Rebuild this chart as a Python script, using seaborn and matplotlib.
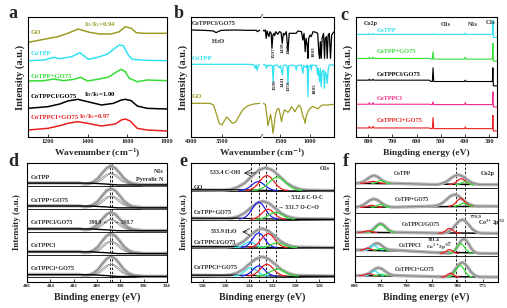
import matplotlib
matplotlib.use("Agg")
import matplotlib.pyplot as plt
import seaborn as sns

sns.set_theme(style="ticks")
plt.rcParams["font.family"] = ["Liberation Serif", "DejaVu Serif"]
plt.rcParams["font.weight"] = "bold"
plt.rcParams["mathtext.fontset"] = "stix"
plt.rcParams["axes.linewidth"] = 0.8
plt.rcParams["axes.edgecolor"] = "black"

OLIVE = "#9c9c24"
CYAN = "#30e2f2"
GREEN = "#35dc35"
PINK = "#f22a8c"
RED = "#ea2020"
BLUE = "#2020f0"
LGRAY = "#b4b4b4"
DGRAY = "#808080"

# ---------------- a: Raman (intensity in picture units, axis flipped)
raman_names = ["GO", "CoTPP", "CoTPP+GO75", "CoTPPCl/GO75", "CoTPPCl+GO75"]
raman_colors = [OLIVE, CYAN, GREEN, "black", RED]
raman_go_x = [1100, 1180, 1250, 1300, 1353, 1410, 1460, 1520, 1560, 1590, 1620, 1645, 1680, 1800]
raman_go_y = [127, 118, 110, 100, 87, 97, 102, 102, 95, 80, 85, 98, 100, 100]
raman_cotpp_x = [1100, 1180, 1230, 1260, 1320, 1362, 1404, 1450, 1500, 1530, 1560, 1580, 1605, 1625, 1700, 1800]
raman_cotpp_y = [182, 180, 172, 176, 170, 158, 178, 172, 162, 148, 135, 137, 165, 178, 181, 182]
raman_mix_x = [1100, 1180, 1230, 1280, 1330, 1365, 1400, 1450, 1500, 1515, 1540, 1570, 1590, 1610, 1650, 1700, 1800]
raman_mix_y = [243, 242, 237, 242, 238, 232, 243, 238, 232, 228, 218, 208, 215, 235, 245, 240, 242]
raman_cl_go_x = [1100, 1200, 1260, 1300, 1350, 1400, 1470, 1530, 1570, 1590, 1620, 1650, 1700, 1800]
raman_cl_go_y = [325, 320, 312, 303, 298, 305, 315, 310, 300, 298, 302, 318, 325, 327]
raman_cl_mix_x = [1100, 1200, 1260, 1300, 1350, 1400, 1470, 1540, 1570, 1590, 1615, 1650, 1700, 1800]
raman_cl_mix_y = [390, 385, 377, 370, 365, 370, 378, 372, 360, 357, 363, 385, 390, 393]
raman_ratio = ["0.94", "1.00", "0.97"]

# ---------------- b: FTIR (transmittance in picture units, axis flipped)
ftir_black_left = [(4000, 45), (3800, 46), (3700, 47), (3640, 48), (3600, 53), (3570, 50), (3520, 46),
                   (3300, 45), (3100, 46), (2960, 46), (2940, 50), (2900, 45)]
ftir_black_right = [(1800, 45), (1780, 48), (1760, 45), (1745, 70), (1730, 48), (1700, 65), (1680, 50),
                    (1660, 55), (1646, 100), (1630, 60), (1610, 55), (1600, 62), (1580, 50), (1545, 58),
                    (1520, 50), (1490, 52), (1469, 85), (1450, 55), (1430, 60), (1400, 50), (1371, 110),
                    (1350, 55), (1320, 55), (1230, 55), (1200, 48), (1140, 50), (1114, 75), (1095, 55),
                    (1075, 110), (1060, 70), (1040, 90), (1029, 130), (1015, 70), (990, 60), (972, 65),
                    (940, 50), (890, 52), (860, 55), (840, 115), (828, 130), (815, 80), (800, 130),
                    (785, 70), (760, 55), (743, 130), (730, 70), (710, 65), (697, 130), (680, 60),
                    (660, 55), (640, 130), (620, 60), (600, 55), (580, 50)]
ftir_cyan_left = [(4000, 148), (3100, 148), (3000, 149), (2975, 160), (2962, 150), (2945, 166),
                  (2928, 151), (2900, 149)]
ftir_cyan_right = [(1800, 148), (1760, 150), (1743, 160), (1730, 150), (1700, 154), (1680, 150),
                   (1640, 152), (1625, 200), (1612, 152), (1560, 150), (1520, 158), (1500, 152),
                   (1465, 180), (1452, 152), (1420, 150), (1385, 152), (1371, 205), (1358, 152),
                   (1300, 150), (1240, 154), (1229, 165), (1215, 152), (1140, 150), (1114, 175),
                   (1100, 152), (1060, 158), (1040, 150), (1029, 245), (1015, 155), (985, 150),
                   (972, 165), (960, 150), (880, 152), (860, 180), (850, 160), (828, 200), (815, 160),
                   (800, 215), (785, 170), (760, 165), (743, 220), (730, 170), (710, 180), (697, 205),
                   (680, 165), (660, 150), (600, 150), (580, 150)]
ftir_go_left = [(4000, 265), (3700, 265), (3640, 270), (3590, 300), (3550, 325), (3510, 330), (3470, 318),
                (3430, 306), (3390, 314), (3340, 325), (3290, 322), (3230, 302), (3170, 283), (3090, 272),
                (3000, 267), (2900, 265)]
ftir_go_right = [(1800, 265), (1760, 268), (1735, 300), (1715, 332), (1695, 318), (1670, 298), (1648, 322),
                 (1628, 355), (1608, 330), (1588, 300), (1560, 284), (1530, 280), (1505, 298), (1482, 320),
                 (1460, 300), (1430, 285), (1400, 288), (1370, 292), (1340, 285), (1310, 275), (1280, 282),
                 (1250, 290), (1220, 280), (1180, 270), (1150, 278), (1120, 300), (1090, 315), (1075, 325),
                 (1060, 305), (1030, 290), (990, 280), (950, 274), (900, 278), (860, 282), (820, 275),
                 (780, 270), (700, 270), (580, 268)]
ftir_black_marks = ["1597", "1439", "1348", "1003"]
ftir_cyan_marks = ["1599", "1441", "1350", "1005"]

# ---------------- c: XPS survey (picture units, axis flipped)
survey_names = ["CoTPP", "CoTPP+GO75", "CoTPPCl/GO75", "CoTPPCl", "CoTPPCl+GO75"]
survey_colors = [CYAN, GREEN, "black", PINK, RED]
survey_hi = [103, 175, 240, 312, 383]
survey_mid = [103, 177, 244, 313, 385]
survey_lo = [112, 183, 257, 320, 392]
survey_co2p = [3, 4, 3, 5, 5]
survey_o1s = [2, 22, 41, 8, 33]
survey_n1s = [4, 6, 4, 6, 5]
survey_c1s = [43, 47, 41, 38, 40]

# ---------------- shared peak shape
peak_u = [-3, -2.5, -2, -1.5, -1, -0.5, 0, 0.5, 1, 1.5, 2, 2.5, 3]
peak_v = [0.01, 0.04, 0.14, 0.32, 0.61, 0.88, 1.0, 0.88, 0.61, 0.32, 0.14, 0.04, 0.01]

# ---------------- d: N1s (rows from bottom)
n1s_names = ["CoTPPCl+GO75", "CoTPPCl", "CoTPPCl/GO75", "CoTPP+GO75", "CoTPP"]
n1s_height = [0.85, 0.85, 0.78, 0.82, 0.8]
n1s_center = 398.8
n1s_sigma = 0.75
n1s_lines = [398.9, 398.7]

# ---------------- e: O1s (rows from bottom)
o1s_names = ["CoTPPCl+GO75", "CoTPPCl/GO75", "CoTPP+GO75", "GO"]
o1s_env_c = [532.9, 532.9, 532.85, 532.6]
o1s_env_s = [1.1, 1.05, 1.05, 1.2]
o1s_env_h = [0.67, 0.66, 0.62, 0.8]
o1s_comp_row = [0, 0, 0, 0, 1, 1, 1, 1, 2, 2, 2, 3, 3, 3]
o1s_comp_col = [CYAN, BLUE, RED, GREEN, CYAN, BLUE, RED, GREEN, BLUE, RED, GREEN, BLUE, RED, GREEN]
o1s_comp_c = [533.85, 533.2, 532.5, 531.6, 533.95, 533.2, 532.4, 531.6, 533.2, 532.4, 531.75, 533.25, 532.5, 531.6]
o1s_comp_s = [0.5, 0.5, 0.55, 0.6, 0.45, 0.5, 0.55, 0.55, 0.55, 0.5, 0.55, 0.55, 0.6, 0.7]
o1s_comp_h = [0.3, 0.36, 0.42, 0.25, 0.2, 0.52, 0.5, 0.16, 0.6, 0.35, 0.24, 0.32, 0.54, 0.48]
o1s_lines = [533.9, 533.2, 532.6, 531.7]

# ---------------- f: Co2p (rows from bottom, picture units)
co_names = ["CoTPPCl+GO75", "CoTPPCl", "CoTPPCl/GO75", "CoTPP+GO75", "CoTPP"]
co_row_bottom = [0, 26, 46, 70, 96]
co_base_l = [6.5, 32.5, 50.5, 76, 100.3]
co_base_r = [5, 29, 49.5, 77, 99]
co_bump_c = [795.4, 795.7, 795.0, 796.3, 796.3]
co_bump_s = [1.2, 1.0, 1.0, 1.3, 1.2]
co_bump_h = [8, 7, 9, 8.5, 8]
co_main_c = [779.0, 778.7, 779.0, 780.5, 779.8]
co_main_s = [1.2, 1.0, 1.3, 1.5, 1.5]
co_main_h = [15, 15, 14, 12, 10]
co_comp_row = [0, 0, 0, 0, 0, 1, 1, 1, 1, 1, 2, 2, 2, 3, 3, 3, 3, 4, 4, 4, 4]
co_comp_col = [CYAN, RED, GREEN, RED, GREEN, CYAN, RED, GREEN, RED, GREEN, GREEN, RED, RED,
               RED, GREEN, RED, GREEN, RED, GREEN, RED, GREEN]
co_comp_c = [796.2, 797.3, 779.4, 781.3, 794.9, 796.3, 797.5, 779.3, 781.5, 794.9, 795.0, 797.5, 781.5,
             796.8, 795.0, 779.3, 778.8, 796.5, 794.9, 779.2, 778.5]
co_comp_s = [0.6, 0.6, 0.8, 0.6, 0.5, 0.6, 0.5, 0.8, 0.6, 0.5, 0.9, 0.6, 0.7,
             0.7, 0.6, 0.8, 0.6, 0.8, 0.6, 0.8, 0.6]
co_comp_h = [5, 2, 12, 4, 1.5, 5, 2, 10, 4, 1.5, 8, 1.5, 5,
             2, 3, 8, 3, 2, 3, 6, 3]
co_lines = [780.3, 778.4]

W, H = 507, 308
fig = plt.figure(figsize=(W / 100, H / 100), dpi=100)


def box(l, r, t, b):
    return fig.add_axes([l / W, 1 - b / H, (r - l) / W, (b - t) / H])


def style(ax, fs):
    ax.set_yticks([])
    ax.tick_params(axis="x", direction="in", length=2, width=0.6, labelsize=fs, pad=1.5)
    for s in ax.spines.values():
        s.set_linewidth(0.8)
        s.set_color("black")


def line(ax, x, y, color, lw=1.0):
    sns.lineplot(x=list(x), y=list(y), ax=ax, color=color, lw=lw, sort=False, estimator=None)


def peak(c, s, h, base):
    return [c - s * u for u in peak_u], [base + h * v for v in peak_v]


def dashed(ax, xs):
    for x in xs:
        ax.axvline(x, color="black", lw=0.6, ls=(0, (3, 2)))


# ---------------- panel a
ax = box(28, 167, 17, 137)
ax.set_xlim(1100, 1800)
ax.set_ylim(411, 51)
raman_x = [raman_go_x, raman_cotpp_x, raman_mix_x, raman_cl_go_x, raman_cl_mix_x]
raman_y = [raman_go_y, raman_cotpp_y, raman_mix_y, raman_cl_go_y, raman_cl_mix_y]
for xs, ys, col in zip(raman_x, raman_y, raman_colors):
    line(ax, xs, ys, col, 1.1)
for name, col, yy in zip(raman_names, raman_colors, [97, 160, 228, 290, 353]):
    ax.text(1112, yy, name, color=col, fontsize=4.8, va="center")
for r, col, (xx, yy) in zip(raman_ratio, [OLIVE, "black", RED], [(1463, 75), (1463, 283), (1437, 350)]):
    ax.text(xx, yy, "I$_\\mathrm{D}$/I$_\\mathrm{G}$=" + r, color=col, fontsize=4.8, ha="center", va="center")
ax.set_xticks([1200, 1400, 1600, 1800])
style(ax, 4.5)
ax.set_ylabel("Intensity (a.u.)", fontsize=7.5, fontweight="bold", labelpad=2)

# ---------------- panel b (broken axis)
b1 = box(191, 260, 17, 137)
b2 = box(263, 334, 17, 137)
for bx, lim in [(b1, (4000, 2900)), (b2, (1800, 580))]:
    bx.set_xlim(*lim)
    bx.set_ylim(366, 6)
traces = [(ftir_black_left, ftir_black_right, "black"),
          (ftir_cyan_left, ftir_cyan_right, CYAN),
          (ftir_go_left, ftir_go_right, OLIVE)]
for left, right, col in traces:
    line(b1, [p[0] for p in left], [p[1] for p in left], col, 0.9)
    line(b2, [p[0] for p in right], [p[1] for p in right], col, 0.9)
b1.text(3990, 25, "CoTPPCl/GO75", fontsize=4.6, va="center")
b1.text(3560, 80, "H$_2$O", fontsize=4.8, ha="center", va="center")
b1.text(3990, 130, "CoTPP", color=CYAN, fontsize=4.8, va="center")
b1.text(3990, 245, "GO", color=OLIVE, fontsize=4.8, va="center")
for m, (xx, yy) in zip(ftir_black_marks, [(1611, 112), (1456, 98), (1359, 100), (924, 110)]):
    b2.text(xx, yy, m, fontsize=3.8, rotation=90, ha="center", va="center")
for m, (xx, yy) in zip(ftir_cyan_marks, [(1599, 210), (1456, 200), (1359, 212), (912, 222)]):
    b2.text(xx, yy, m, fontsize=3.8, rotation=90, ha="center", va="center")
b1.set_xticks([4000, 3500])
b2.set_xticks([1500, 1000])
style(b1, 4.5)
style(b2, 4.5)
b1.spines["right"].set_visible(False)
b2.spines["left"].set_visible(False)
b1.set_ylabel("Intensity (a.u.)", fontsize=7.5, fontweight="bold", labelpad=2)
for yy in [17, 137]:
    fig.text(261.5 / W, 1 - yy / H, "//", fontsize=5, fontstyle="italic", ha="center", va="center")

# ---------------- panel c
ax = box(356, 497, 17, 137)
ax.set_xlim(850, 268)
ax.set_ylim(410, 51)
survey_x = [850, 800, 797, 795, 792, 783, 780, 777, 700, 600, 548, 540, 535, 532, 529, 520, 420,
            402, 399, 396, 320, 296, 287, 285, 283, 280, 268]
for i, col in enumerate(survey_colors):
    hi, mid, lo = survey_hi[i], survey_mid[i], survey_lo[i]
    co, o, n, c = survey_co2p[i], survey_o1s[i], survey_n1s[i], survey_c1s[i]
    ys = [hi, hi, hi, hi - co, hi, hi, hi - co, hi, hi, hi, hi, mid, mid, mid - o, mid, mid, mid,
          mid, mid - n, mid, mid, mid, mid, mid - c, lo, lo, lo]
    line(ax, survey_x, ys, col, 0.8)
    ax.text(764, [90, 155, 222, 295, 362][i], survey_names[i], color=col, fontsize=4.6, va="center")
for lab, xx, yy in [("Co2p", 789, 70), ("O1s", 481, 74), ("N1s", 368, 74), ("C1s", 296, 68)]:
    ax.text(xx, yy, lab, fontsize=4.4, ha="center", va="center")
ax.set_xticks([800, 700, 600, 500, 400, 300])
style(ax, 4.5)
ax.set_ylabel("Intensity (a.u.)", fontsize=7.5, fontweight="bold", labelpad=2)

# ---------------- panel d
ax = box(27, 167, 163, 282)
ax.set_xlim(406, 394)
ax.set_ylim(0, 5.2)
dashed(ax, n1s_lines)
for i, name in enumerate(n1s_names):
    y0 = 0.2 + i
    ax.axhline(y0, color="black", lw=0.6)
    h = n1s_height[i]
    px, py = peak(n1s_center, n1s_sigma, h, y0 + 0.07)
    ex = [406, 401.5] + px + [396, 394]
    ey = [y0 + 0.13, y0 + 0.13] + py + [y0 + 0.05, y0 + 0.05]
    line(ax, ex, ey, LGRAY, 2.4)
    line(ax, ex, ey, DGRAY, 0.6)
    for c in n1s_lines:
        cx, cy = peak(c, 0.65, 0.6 * h, y0 + 0.07)
        line(ax, cx, cy, DGRAY, 0.5)
    line(ax, [406, 400.6, 399.2, 398.2, 394],
         [y0 + 0.12, y0 + 0.12, y0 + 0.08, y0 + 0.04, y0 + 0.04], "black", 1.0)
    ax.text(405.7, y0 + 0.38, name, fontsize=4.4, va="center")
ax.text(394.3, 4.85, "N1s", fontsize=4.4, ha="right", va="center")
ax.text(394.3, 4.5, "Pyrrolic N", fontsize=4.4, ha="right", va="center")
ax.text(399.05, 2.6, "398.9 \u2190", fontsize=4, ha="right", va="center")
ax.text(398.55, 2.6, "\u2192 398.7", fontsize=4, ha="left", va="center", fontstyle="italic")
ax.set_xticks([406, 404, 402, 400, 398, 396, 394])
style(ax, 3.7)
ax.set_ylabel("Intensity (a.u.)", fontsize=6.5, fontweight="bold", labelpad=4)

# ---------------- panel e
ax = box(191, 334, 163, 282)
ax.set_xlim(539, 526.75)
ax.set_ylim(0, 4.18)
dashed(ax, o1s_lines)
for i, name in enumerate(o1s_names):
    y0 = 0.18 + i
    ax.axhline(y0, color="black", lw=0.6)
    px, py = peak(o1s_env_c[i], o1s_env_s[i], o1s_env_h[i], y0 + 0.04)
    ex = [539] + px + [526.75]
    ey = [y0 + 0.06] + py + [y0 + 0.03]
    line(ax, ex, ey, LGRAY, 2.4)
    line(ax, ex, ey, DGRAY, 0.6)
    line(ax, [539, 535, 530.5, 526.75], [y0 + 0.06, y0 + 0.06, y0 + 0.02, y0 + 0.02], "black", 0.9)
for r, col, c, s, h in zip(o1s_comp_row, o1s_comp_col, o1s_comp_c, o1s_comp_s, o1s_comp_h):
    cx, cy = peak(c, s, h, 0.18 + r + 0.03)
    line(ax, cx, cy, col, 0.9)
for name, yy in zip(o1s_names, [0.51, 1.38, 2.45, 3.33]):
    ax.text(538.8, yy, name, fontsize=4.4, va="center")
ax.text(527.1, 3.97, "O1s", fontsize=4.4, ha="right", va="center")
ax.text(534.75, 3.83, "533.4 C-OH", fontsize=4.2, ha="right", va="center")
ax.annotate("", xy=(534.7, 3.83), xytext=(533.25, 3.83),
            arrowprops=dict(arrowstyle="->", lw=0.5, color="black"))
ax.text(530.65, 2.97, "\u00b7 532.6 C-O-C", fontsize=4.2, ha="left", va="center")
ax.text(531.55, 2.62, "\u2192 531.7 O-C=O", fontsize=4.2, ha="left", va="center")
ax.text(534.95, 1.76, "533.9 H$_2$O", fontsize=4.2, ha="right", va="center")
ax.annotate("", xy=(534.85, 1.76), xytext=(533.95, 1.76),
            arrowprops=dict(arrowstyle="->", lw=0.5, color="black"))
ax.set_xticks([538, 536, 534, 532, 530, 528])
style(ax, 3.7)
ax.set_ylabel("Intensity (a.u.)", fontsize=6.5, fontweight="bold", labelpad=2)

# ---------------- panel f
ax = box(355, 498, 163, 282)
ax.set_xlim(800, 772)
ax.set_ylim(0, 121)
dashed(ax, co_lines)
for i, name in enumerate(co_names):
    ax.axhline(co_row_bottom[i], color="black", lw=0.6)
    bl, br = co_base_l[i], co_base_r[i]
    bx, by = peak(co_bump_c[i], co_bump_s[i], co_bump_h[i], bl)
    mx, my = peak(co_main_c[i], co_main_s[i], co_main_h[i], br)
    ex = [800] + bx + mx + [772]
    ey = [bl] + by + my + [br]
    line(ax, [800, 772], [bl, br], "black", 1.1)
    line(ax, ex, ey, LGRAY, 2.4)
    line(ax, ex, ey, DGRAY, 0.6)
for r, col, c, s, h in zip(co_comp_row, co_comp_col, co_comp_c, co_comp_s, co_comp_h):
    base = co_base_l[r] if c > 788 else co_base_r[r]
    cx, cy = peak(c, s, h, base)
    line(ax, cx, cy, col, 0.9)
for name, xx, yy in zip(co_names, [792.2, 791.4, 790.8, 792.2, 792.5], [13, 37, 58, 83.5, 110.5]):
    ax.text(xx, yy, name, fontsize=4.0, va="center")
ax.text(772.7, 110.5, "Co2p", fontsize=4.4, ha="right", va="center")
ax.text(777.6, 66.5, "779.9", fontsize=3.8, ha="left", va="center")
ax.text(775.9, 60, "Co$^{3+}$2p$^{3/2}$", fontsize=4.2, ha="left", va="center")
ax.text(785.8, 43, "781.4", fontsize=3.8, ha="left", va="center")
ax.text(781.9, 40.5, "\u2190", fontsize=3.6, ha="left", va="center")
ax.text(786.0, 34.5, "Co$^{2+}$2p$^{3/2}$", fontsize=3.9, ha="left", va="center")
ax.set_xticks([800, 795, 790, 785, 780, 775])
style(ax, 3.7)
ax.set_ylabel("Intensity (a.u.)", fontsize=6.5, fontweight="bold", labelpad=2)

# ---------------- x labels and panel letters
for xx, yy, txt, fs in [(97.5, 153, "Wavenumber (cm$^{-1}$)", 6.8),
                        (262.5, 153, "Wavenumber (cm$^{-1}$)", 6.8),
                        (426.5, 153, "Bingding energy (eV)", 6.8),
                        (97, 297, "Binding energy (eV)", 7.2),
                        (262.5, 297, "Binding energy (eV)", 7.2),
                        (426.5, 297, "Binding energy (eV)", 7.2)]:
    fig.text(xx / W, 1 - yy / H, txt, fontsize=fs, fontweight="bold", ha="center", va="center")
for lab, xx, yy in [("a", 13, 14), ("b", 179, 14), ("c", 344, 16),
                    ("d", 13, 162), ("e", 183, 162), ("f", 346, 162)]:
    fig.text(xx / W, 1 - yy / H, lab, fontsize=13, fontweight="bold", ha="center", va="center")

fig.savefig("out.png", dpi=100)
